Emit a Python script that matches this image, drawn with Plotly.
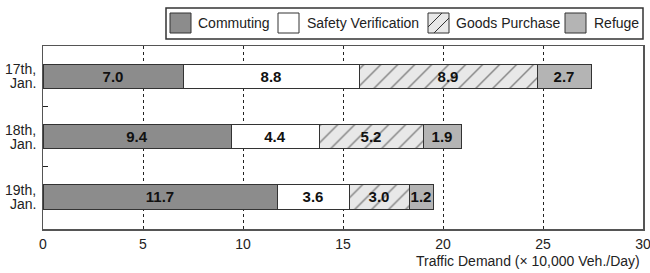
import plotly.graph_objects as go

day_line1 = ["17th,", "18th,", "19th,"]
day_line2 = ["Jan.", "Jan.", "Jan."]
commuting = [7.0, 9.4, 11.7]
safety = [8.8, 4.4, 3.6]
goods = [8.9, 5.2, 3.0]
refuge = [2.7, 1.9, 1.2]
x_ticks = [0, 5, 10, 15, 20, 25, 30]

FONT = "Liberation Sans, Arial, sans-serif"
LINE = dict(color="#333333", width=1)

# plot-area geometry in pixels
L, R, T, B = 43, 643, 46, 229
W, H = 650, 273


def px(x):
    return (x - L) / (R - L)


def py(y):
    return (B - y) / (B - T)


series = [
    ("Commuting", commuting, "#8c8c8c", None),
    ("Safety Verification", safety, "#ffffff", None),
    ("Goods Purchase", goods, "#e8e8e8",
     dict(shape="/", bgcolor="#e8e8e8", fgcolor="#222222", size=12, solidity=0.12)),
    ("Refuge", refuge, "#b4b4b4", None),
]

fig = go.Figure()
for name, vals, color, pattern in series:
    marker = dict(color=color, line=LINE)
    if pattern:
        marker["pattern"] = pattern
    fig.add_trace(go.Bar(
        y=list(range(len(vals))), x=vals, name=name, orientation="h", marker=marker,
        width=0.4, texttemplate="%{x:.1f}", textposition="inside",
        insidetextanchor="middle", textangle=0, constraintext="none",
        textfont=dict(family=FONT, size=15, color="#111111", weight="bold"),
        hoverinfo="skip", showlegend=False,
    ))

yr = [2.53, -0.5]
fig.add_trace(go.Scatter(x=[None], y=[None], yaxis="y2", showlegend=False, hoverinfo="skip"))

fig.update_layout(
    barmode="stack",
    width=W, height=H,
    margin=dict(l=L, r=W - R, t=T, b=H - B, autoexpand=False),
    paper_bgcolor="white", plot_bgcolor="white",
    font=dict(family=FONT, size=14, color="#222222"),
    showlegend=False,
    xaxis=dict(range=[0, 30], tickvals=x_ticks, ticks="", showgrid=True,
               gridcolor="#222222", griddash="dot", gridwidth=1,
               showline=True, linecolor="#555555", linewidth=1.5, mirror=True,
               zeroline=False, tickfont=dict(size=14), ticklabelstandoff=2,
               ticklabeloverflow="allow"),
    yaxis=dict(range=yr, showticklabels=False, ticks="", showgrid=False,
               showline=True, linecolor="#555555", linewidth=1.5, mirror=True,
               zeroline=False),
    yaxis2=dict(range=yr, overlaying="y", tickvals=[0.5, 1.5],
                showticklabels=False, ticks="inside", ticklen=5, tickcolor="#222222",
                showgrid=False, showline=False, zeroline=False, side="left"),
)

# category labels (two tight lines each)
for i, (a, b) in enumerate(zip(day_line1, day_line2)):
    for txt, shift in ((a, 7), (b, -7)):
        fig.add_annotation(text=txt, xref="paper", yref="y", x=px(38), y=i,
                           xanchor="right", yanchor="middle", yshift=shift,
                           showarrow=False, font=dict(family=FONT, size=14, color="#222222"))

# x-axis title
fig.add_annotation(text="Traffic Demand (× 10,000 Veh./Day)", xref="paper", yref="paper",
                   x=px(642), y=py(261), xanchor="right", yanchor="middle", showarrow=False,
                   font=dict(family=FONT, size=14, color="#222222"))

# legend box
fig.add_shape(type="rect", xref="paper", yref="paper", x0=px(166), x1=px(643),
              y0=py(39), y1=py(8), line=dict(color="#333333", width=1.5),
              fillcolor="white", layer="above")
sw_x = [170, 278, 428, 565]
tx_x = [196, 305, 454, 592]
for (name, _, color, pattern), sx, tx in zip(series, sw_x, tx_x):
    fig.add_shape(type="rect", xref="paper", yref="paper", x0=px(sx), x1=px(sx + 21),
                  y0=py(33), y1=py(13), line=dict(color="#333333", width=1),
                  fillcolor=color, layer="above")
    if pattern:
        for (x0, y0, x1, y1) in ((sx, 27, sx + 14, 13), (sx + 6, 33, sx + 21, 18)):
            fig.add_shape(type="line", xref="paper", yref="paper", x0=px(x0), y0=py(y0),
                          x1=px(x1), y1=py(y1), line=dict(color="#333333", width=1),
                          layer="above")
    fig.add_annotation(text=name, xref="paper", yref="paper", x=px(tx), y=py(23),
                       xanchor="left", yanchor="middle", showarrow=False,
                       font=dict(family=FONT, size=14, color="#222222"))

fig.write_html("out.html", config={"displayModeBar": False, "staticPlot": True},
               post_script="document.body.style.margin='0';document.body.style.overflow='hidden';")
